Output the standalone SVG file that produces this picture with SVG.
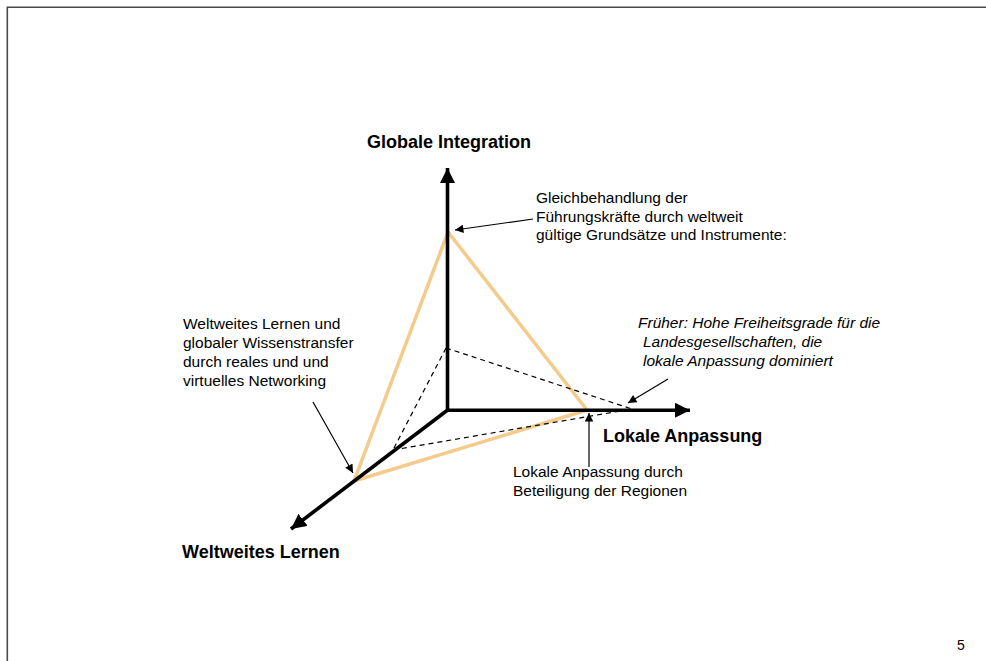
<svg xmlns="http://www.w3.org/2000/svg" width="986" height="661" viewBox="0 0 986 661">
  <defs>
    <marker id="axisHead" viewBox="0 0 10 10" refX="10" refY="5" markerWidth="4.2" markerHeight="4.2" markerUnits="strokeWidth" orient="auto">
      <path d="M0,0 L10,5 L0,10 Z" fill="#000"/>
    </marker>
    <marker id="noteHead" viewBox="0 0 10 10" refX="10" refY="5" markerWidth="9" markerHeight="7" markerUnits="strokeWidth" orient="auto">
      <path d="M0,0 L10,5 L0,10 Z" fill="#000"/>
    </marker>
    <style>
      .axis { stroke: #000; stroke-width: 3.6; fill: none; }
      .tri { stroke: #F4CB8A; stroke-width: 3.5; fill: none; stroke-linejoin: round; }
      .dash { stroke: #000; stroke-width: 1.2; stroke-dasharray: 5 4; fill: none; }
      .note { stroke: #000; stroke-width: 1.2; fill: none; }
      .title { font-family: "Liberation Sans", Arial, sans-serif; font-weight: bold; font-size: 18px; fill: #000; }
      .label { font-family: "Liberation Sans", Arial, sans-serif; font-size: 15.5px; fill: #000; }
      .italic { font-style: italic; }
    </style>
  </defs>

  <!-- page frame -->
  <path d="M7.3,661 L7.3,7.3 L986,7.3" fill="none" stroke="#4a4a4a" stroke-width="1.6"/>

  <!-- target triangle (current state) -->
  <g id="triangle-current">
    <polygon class="tri" points="448,232 587,410 354,481"/>
  </g>

  <!-- former state triangle -->
  <g id="triangle-former">
    <path class="dash" d="M446,348 L393,450"/>
    <path class="dash" d="M446,348 L632,409"/>
    <path class="dash" d="M393,450 L632,409"/>
  </g>

  <!-- coordinate axes -->
  <g id="axes">
    <line class="axis" x1="447.5" y1="412" x2="447.5" y2="168" marker-end="url(#axisHead)"/>
    <line class="axis" x1="446" y1="410.3" x2="690" y2="410.3" marker-end="url(#axisHead)"/>
    <line class="axis" x1="447" y1="410.5" x2="291" y2="529" stroke-width="3" marker-end="url(#axisHead)"/>
  </g>

  <!-- axis titles -->
  <g id="axis-globale">
    <text class="title" x="367" y="148">Globale Integration</text>
  </g>
  <g id="axis-lokale">
    <text class="title" x="603" y="442">Lokale Anpassung</text>
  </g>
  <g id="axis-weltweit">
    <text class="title" x="182" y="558">Weltweites Lernen</text>
  </g>

  <!-- annotations -->
  <g id="note-gleich">
    <text class="label" x="536" y="203">Gleichbehandlung der</text>
    <text class="label" x="536" y="221.5">Führungskräfte durch weltweit</text>
    <text class="label" x="536" y="240">gültige Grundsätze und Instrumente:</text>
  </g>
  <g id="note-lernen">
    <text class="label" x="183" y="328.5">Weltweites Lernen und</text>
    <text class="label" x="183" y="347.5">globaler Wissenstransfer</text>
    <text class="label" x="183" y="366.5">durch reales und und</text>
    <text class="label" x="183" y="385.5">virtuelles Networking</text>
  </g>
  <g id="note-frueher">
    <text class="label italic" x="638" y="328">Früher: Hohe Freiheitsgrade für die</text>
    <text class="label italic" x="643" y="347">Landesgesellschaften, die</text>
    <text class="label italic" x="643" y="365.5">lokale Anpassung dominiert</text>
  </g>
  <g id="note-lokal">
    <text class="label" x="513" y="477">Lokale Anpassung durch</text>
    <text class="label" x="513" y="495.5">Beteiligung der Regionen</text>
  </g>

  <!-- annotation pointers -->
  <g id="connectors">
    <line class="note" x1="533" y1="219" x2="455" y2="230" marker-end="url(#noteHead)"/>
    <line class="note" x1="313" y1="402" x2="353" y2="473" marker-end="url(#noteHead)"/>
    <line class="note" x1="668" y1="379" x2="628" y2="403" marker-end="url(#noteHead)"/>
    <line class="note" x1="589" y1="467" x2="589" y2="413" marker-end="url(#noteHead)"/>
  </g>

  <!-- page number -->
  <text class="label" x="957" y="650" style="font-size:14px">5</text>
</svg>
